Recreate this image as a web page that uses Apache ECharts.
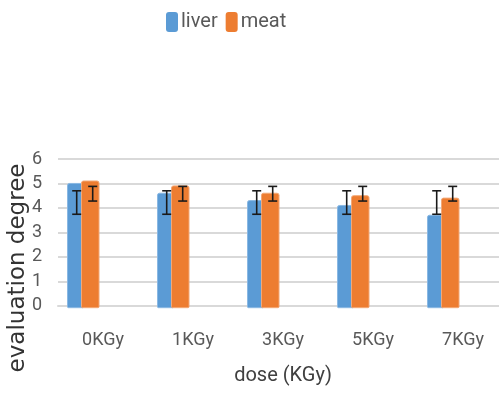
<!DOCTYPE html>
<html>
<head>
<meta charset="utf-8">
<script src="https://cdn.jsdelivr.net/npm/echarts@6/dist/echarts.min.js"></script>
<style>html,body{margin:0;padding:0;background:#fff;}#chart{width:499px;height:396px;}</style>
</head>
<body>
<div id="chart"></div>
<script>
const categories = ['0KGy', '1KGy', '3KGy', '5KGy', '7KGy'];
const liver = [5.0, 4.6, 4.3, 4.1, 3.7];
const meat = [5.1, 4.9, 4.6, 4.5, 4.4];
const liverErrLow = [3.74, 3.74, 3.74, 3.74, 3.74];
const liverErrHigh = [4.70, 4.70, 4.70, 4.70, 4.70];
const meatErrLow = [4.28, 4.28, 4.28, 4.28, 4.28];
const meatErrHigh = [4.88, 4.88, 4.88, 4.88, 4.88];
const yTicks = [0, 1, 2, 3, 4, 5, 6];

const NARROW = "Roboto, sans-serif";
const chart = echarts.init(document.getElementById('chart'), null, {renderer: 'canvas'});

function barRender(x0, x1, fill, stroke) {
  return function (params, api) {
    const idx = api.value(0), val = api.value(1);
    const top = api.coord([idx, val]);
    const base = api.coord([idx, 0]);
    return {
      type: 'rect',
      shape: {x: top[0] + x0, y: top[1], width: x1 - x0, height: base[1] - top[1] + 2, r: [2, 2, 1, 1]},
      style: {fill: fill, stroke: stroke, lineWidth: 1}
    };
  };
}
function errRender(dx) {
  return function (params, api) {
    const idx = api.value(0);
    const lo = api.coord([idx, api.value(1)]);
    const hi = api.coord([idx, api.value(2)]);
    const x = lo[0] + dx, w = 4.5;
    const st = {stroke: '#1a1a1a', lineWidth: 1.6};
    return {
      type: 'group',
      children: [
        {type: 'line', shape: {x1: x, y1: lo[1], x2: x, y2: hi[1]}, style: st},
        {type: 'line', shape: {x1: x - w, y1: lo[1], x2: x + w, y2: lo[1]}, style: st},
        {type: 'line', shape: {x1: x - w, y1: hi[1], x2: x + w, y2: hi[1]}, style: st}
      ]
    };
  };
}

chart.setOption({
  animation: false,
  backgroundColor: '#ffffff',
  legend: {
    left: 161, top: 7,
    itemWidth: 12, itemHeight: 20, itemGap: 8,
    icon: 'roundRect',
    data: [{name: 'liver', itemStyle: {color: '#5B9BD5'}}, {name: 'meat', itemStyle: {color: '#ED7D31'}}],
    textStyle: {fontFamily: NARROW, fontSize: 20, color: '#595959', padding: [0, 0, 0, -2]}
  },
  grid: {left: 58, width: 450, top: 159, bottom: 90.3, containLabel: false, outerBoundsMode: 'none'},
  xAxis: {
    type: 'category',
    data: categories,
    boundaryGap: true,
    axisLine: {lineStyle: {color: '#d9d9d9', width: 2}},
    axisTick: {show: false},
    axisLabel: {fontFamily: NARROW, fontSize: 18, color: '#595959', margin: 26},
    name: 'dose (KGy)',
    nameLocation: 'middle',
    nameGap: 60,
    nameTextStyle: {fontFamily: NARROW, fontSize: 20, color: '#404040'}
  },
  yAxis: {
    type: 'value',
    min: yTicks[0], max: yTicks[yTicks.length - 1], interval: 1,
    axisLine: {show: false},
    axisTick: {show: false},
    axisLabel: {fontFamily: NARROW, fontSize: 18, color: '#595959', margin: 16},
    splitLine: {lineStyle: {color: '#d9d9d9', width: 2}}
  },
  graphic: [{
    type: 'text',
    x: 18, y: 268,
    rotation: Math.PI / 2,
    style: {
      text: 'evaluation degree',
      fontFamily: "'DejaVu Sans', sans-serif",
      fontSize: 23,
      fill: '#333333',
      align: 'center',
      verticalAlign: 'middle'
    }
  }],
  series: [
    {
      name: 'liver', type: 'custom', itemStyle: {color: '#5B9BD5'},
      renderItem: barRender(-35.5, -19.5, '#5B9BD5', '#8ab8e3'),
      data: liver.map((v, i) => [i, v]), z: 2
    },
    {
      name: 'meat', type: 'custom', itemStyle: {color: '#ED7D31'},
      renderItem: barRender(-21.5, -4, '#ED7D31', '#f3a877'),
      data: meat.map((v, i) => [i, v]), z: 3
    },
    {
      name: 'liverErr', type: 'custom',
      renderItem: errRender(-26.3),
      data: liverErrLow.map((v, i) => [i, v, liverErrHigh[i]]), z: 5
    },
    {
      name: 'meatErr', type: 'custom',
      renderItem: errRender(-10.3),
      data: meatErrLow.map((v, i) => [i, v, meatErrHigh[i]]), z: 5
    }
  ]
});
</script>
</body>
</html>
